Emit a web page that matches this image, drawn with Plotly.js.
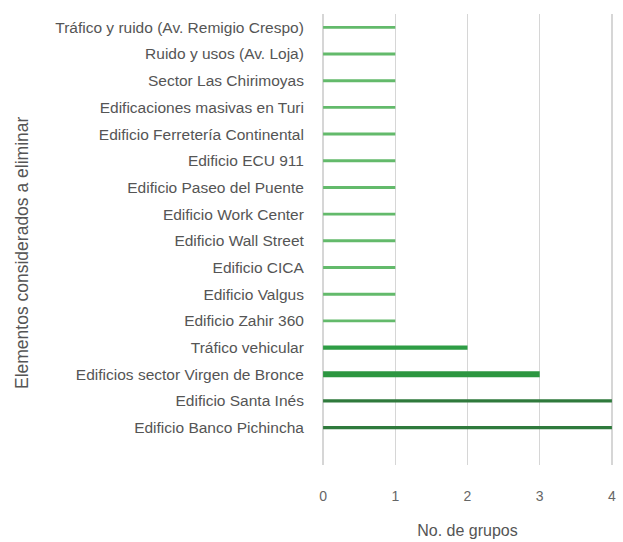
<!DOCTYPE html>
<html><head><meta charset="utf-8">
<script src="https://cdn.plot.ly/plotly-3.0.1.min.js"></script>
<style>html,body{margin:0;padding:0;background:#fff}#c{width:623px;height:542px}</style>
</head><body><div id="c"></div>
<script>
const categories = [
  "Tráfico y ruido (Av. Remigio Crespo)",
  "Ruido y usos (Av. Loja)",
  "Sector Las Chirimoyas",
  "Edificaciones masivas en Turi",
  "Edificio Ferretería Continental",
  "Edificio ECU 911",
  "Edificio Paseo del Puente",
  "Edificio Work Center",
  "Edificio Wall Street",
  "Edificio CICA",
  "Edificio Valgus",
  "Edificio Zahir 360",
  "Tráfico vehicular",
  "Edificios sector Virgen de Bronce",
  "Edificio Santa Inés",
  "Edificio Banco Pichincha"
];
const groups = [1,1,1,1,1,1,1,1,1,1,1,1,2,3,4,4];
const xTicks = [0,1,2,3,4];

const colorByValue = {1:"#63ba6b", 2:"#2e9d45", 3:"#2c9640", 4:"#2f7a3c"};
const widthByValue = {1:0.11, 2:0.16, 3:0.22, 4:0.12};

const trace = {
  type: "bar",
  orientation: "h",
  y: categories,
  x: groups,
  marker: {color: groups.map(v => colorByValue[v]), line: {width: 0}},
  width: groups.map(v => widthByValue[v]),
  hoverinfo: "none"
};

const layout = {
  width: 623, height: 542,
  margin: {l: 322, r: 10, t: 14, b: 77, pad: 0},
  paper_bgcolor: "#fff", plot_bgcolor: "#fff",
  showlegend: false,
  font: {family: "Liberation Sans, Arial, sans-serif", color: "#555"},
  xaxis: {
    range: [-0.015, 4.015],
    tickvals: xTicks,
    showgrid: true, gridcolor: "#d6d6d6", gridwidth: 1.5,
    zeroline: false, showline: false,
    ticks: "outside", ticklen: 18, tickcolor: "rgba(0,0,0,0)",
    tickfont: {size: 14, color: "#666"},
    title: {text: "No. de grupos", font: {size: 16, color: "#555"}, standoff: 22}
  },
  yaxis: {
    type: "category",
    categoryorder: "array", categoryarray: categories,
    range: [16.4, -0.5],
    showgrid: false, zeroline: false, showline: false,
    ticks: "outside", ticklen: 14, tickcolor: "rgba(0,0,0,0)",
    tickfont: {size: 15.5, color: "#555"},
    automargin: false
  },
  annotations: [{
    text: "Elementos considerados a eliminar",
    xref: "paper", yref: "paper", x: (22 - 322) / 291, y: 0.47,
    xanchor: "center", yanchor: "middle",
    textangle: -90, showarrow: false,
    font: {size: 17.5, color: "#555"}
  }]
};

Plotly.newPlot("c", [trace], layout, {staticPlot: true, displayModeBar: false});
</script></body></html>
